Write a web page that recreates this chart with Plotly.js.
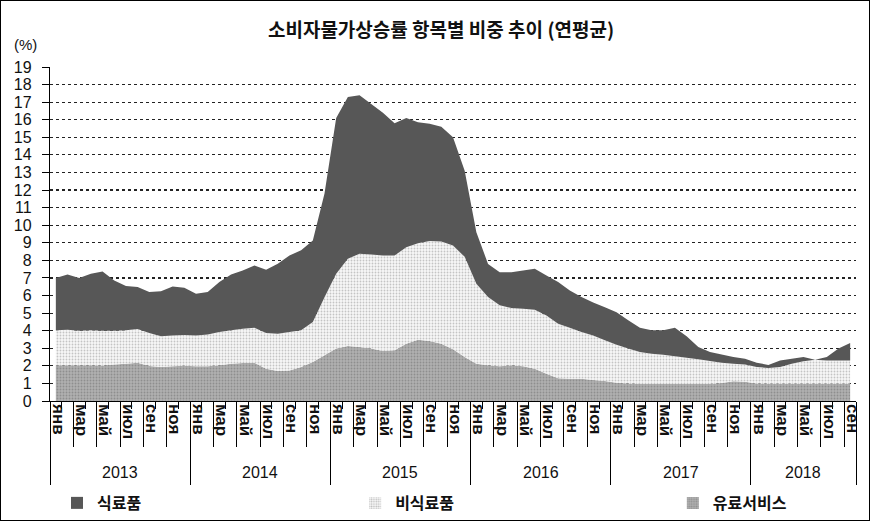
<!DOCTYPE html>
<html><head><meta charset="utf-8">
<script src="https://cdn.plot.ly/plotly-3.0.1.min.js"></script>
<style>html,body{margin:0;padding:0;background:#fff}#chart{width:868px;height:519px;border:1px solid #000}</style>
</head><body><div id="chart"></div><script>
const periods = ['2013-01','2013-02','2013-03','2013-04','2013-05','2013-06','2013-07','2013-08','2013-09','2013-10','2013-11','2013-12',
'2014-01','2014-02','2014-03','2014-04','2014-05','2014-06','2014-07','2014-08','2014-09','2014-10','2014-11','2014-12',
'2015-01','2015-02','2015-03','2015-04','2015-05','2015-06','2015-07','2015-08','2015-09','2015-10','2015-11','2015-12',
'2016-01','2016-02','2016-03','2016-04','2016-05','2016-06','2016-07','2016-08','2016-09','2016-10','2016-11','2016-12',
'2017-01','2017-02','2017-03','2017-04','2017-05','2017-06','2017-07','2017-08','2017-09','2017-10','2017-11','2017-12',
'2018-01','2018-02','2018-03','2018-04','2018-05','2018-06','2018-07','2018-08','2018-09'];
const labeledMonths = ['01','03','05','07','09','11'];
const monthTickText = ['янв','мар','май','июл','сен','ноя'];
const yearLabels = ['2013','2014','2015','2016','2017','2018'];
const seriesNames = ['식료품','비식료품','유료서비스'];

// 식료품 (food)
const food = [2.98,3.15,3.00,3.22,3.37,2.86,2.52,2.39,2.33,2.57,2.79,2.69,
2.37,2.41,2.85,3.18,3.32,3.54,3.60,3.98,4.36,4.55,4.63,5.90,
8.86,9.21,9.02,8.56,8.12,7.52,7.35,6.88,6.67,6.52,6.15,4.90,
2.93,1.89,1.89,2.04,2.18,2.33,2.27,2.37,2.12,1.99,1.88,1.89,
1.85,1.61,1.38,1.33,1.39,1.63,1.22,0.70,0.52,0.48,0.38,0.34,
0.25,0.17,0.38,0.29,0.24,0.00,0.19,0.67,0.99];
// 비식료품 (non-food goods)
const nonFood = [1.99,2.02,1.97,1.99,1.98,1.93,1.90,1.91,1.88,1.75,1.76,1.75,
1.76,1.82,1.89,1.90,1.95,1.99,2.03,2.13,2.18,2.09,2.28,3.30,
4.26,4.96,5.31,5.36,5.44,5.40,5.49,5.49,5.69,5.82,5.90,5.70,
4.55,3.88,3.47,3.26,3.28,3.35,3.32,3.10,2.90,2.65,2.52,2.31,
2.16,1.99,1.83,1.73,1.67,1.58,1.50,1.41,1.31,1.15,1.00,0.97,
0.93,0.90,0.95,1.14,1.28,1.37,1.33,1.33,1.33];
// 유료서비스 (paid services)
const services = [2.03,2.03,2.03,2.03,2.02,2.07,2.12,2.18,1.99,1.93,1.97,2.00,
1.97,1.97,2.03,2.12,2.16,2.18,1.84,1.70,1.74,1.93,2.22,2.60,
2.98,3.13,3.07,2.98,2.84,2.88,3.26,3.49,3.41,3.26,2.95,2.50,
2.12,2.03,1.97,2.03,1.97,1.84,1.55,1.30,1.27,1.27,1.20,1.14,
1.04,0.99,0.96,0.96,0.96,0.96,0.96,0.96,0.96,1.02,1.12,1.10,
1.00,0.98,0.98,0.98,0.98,0.98,0.98,0.98,0.98];

const idx = periods.map((p, i) => i);
const mm = periods.map(p => p.slice(5));
const last = periods.length - 0.5;
const allBounds = idx.map(i => i - 0.5).concat([last]);
const majorBounds = idx.filter(i => labeledMonths.includes(mm[i])).map(i => i - 0.5).concat([last]);
const yearBounds = idx.filter(i => mm[i] === '01').map(i => i - 0.5).concat([last]);
const labelIdx = idx.filter(i => labeledMonths.includes(mm[i]));
const labelPos = labelIdx.map(i => i + 0.2);
const labelText = labelIdx.map(i => monthTickText[labeledMonths.indexOf(mm[i])]);
const yearCenters = yearLabels.map(y => {
  const ii = idx.filter(i => periods[i].slice(0,4) === y);
  return ii.reduce((a,b)=>a+b,0)/ii.length;
});

const colFood = '#575757';
const servicesPattern = {shape:'.', bgcolor:'#b0b0b0', fgcolor:'#8e8e8e', size:3, solidity:0.3};
const nonFoodPattern = {shape:'.', bgcolor:'#f8f8f8', fgcolor:'#c4c4c4', size:3, solidity:0.3};

const traces = [
  {x: idx, y: services, stackgroup:'one', mode:'none', fillcolor:'#aaaaaa', fillpattern: servicesPattern, showlegend:false, hoverinfo:'skip'},
  {x: idx, y: nonFood, stackgroup:'one', mode:'none', fillcolor:'#eeeeee', fillpattern: nonFoodPattern, showlegend:false, hoverinfo:'skip'},
  {x: idx, y: food, stackgroup:'one', mode:'none', fillcolor: colFood, showlegend:false, hoverinfo:'skip'},
  {x:[null], y:[null], type:'bar', name: seriesNames[0], marker:{color: colFood}, legend:'legend'},
  {x:[null], y:[null], type:'bar', name: seriesNames[1], marker:{color:'#f4f4f4', pattern:{shape:'.', bgcolor:'#f8f8f8', fgcolor:'#bdbdbd', size:3, solidity:0.4}}, legend:'legend2'},
  {x:[null], y:[null], type:'bar', name: seriesNames[2], marker:{color:'#aaaaaa', pattern:{shape:'.', bgcolor:'#b0b0b0', fgcolor:'#909090', size:3, solidity:0.4}}, legend:'legend3'},
  {x:[0], y:[null], xaxis:'x2', mode:'lines', showlegend:false, hoverinfo:'skip'},
  {x:[0], y:[null], xaxis:'x3', mode:'lines', showlegend:false, hoverinfo:'skip'}
];

const legFont = {family:'Noto Sans CJK KR', size:16, color:'#111', weight:'bold'};
const legBase = {orientation:'h', xref:'container', yref:'container', yanchor:'middle', xanchor:'left', y:0.0328, font: legFont, bgcolor:'rgba(0,0,0,0)', borderwidth:0};

const layout = {
  width: 868, height: 519,
  margin: {l:49, r:13, t:66, b:119, autoexpand:false},
  paper_bgcolor:'#fff', plot_bgcolor:'#fff',
  title: {text:'소비자물가상승률 항목별 비중 추이 (연평균)', font:{family:'Noto Sans CJK KR', size:19, color:'#111', weight:'bold'}, x:0.507, xref:'container', xanchor:'center', y:0.944, yref:'container', yanchor:'middle'},
  showlegend: true,
  legend: Object.assign({}, legBase, {x:0.0645}),
  legend2: Object.assign({}, legBase, {x:0.408}),
  legend3: Object.assign({}, legBase, {x:0.774}),
  xaxis: {range:[-0.5, last], showgrid:false, zeroline:false, showline:true, linecolor:'#000', linewidth:1.2,
    tickmode:'array', tickvals: majorBounds, ticks:'outside', ticklen:45, tickwidth:1, tickcolor:'#000', showticklabels:false,
    minor:{tickmode:'array', tickvals: allBounds, ticks:'outside', ticklen:7, tickwidth:1, tickcolor:'#000', showgrid:false}},
  xaxis2: {overlaying:'x', anchor:'y', side:'bottom', range:[-0.5, last], showgrid:false, zeroline:false, showline:false,
    tickmode:'array', tickvals: labelPos, ticktext: labelText, ticks:'', tickangle:90, ticklabelstandoff:2,
    tickfont:{family:'Liberation Sans, Arial, sans-serif', size:17, color:'#111', weight:'bold'}},
  xaxis3: {overlaying:'x', anchor:'y', side:'bottom', range:[-0.5, last], showgrid:false, zeroline:false, showline:false,
    tickmode:'array', tickvals: yearBounds, ticks:'outside', ticklen:83, tickwidth:1, tickcolor:'#000', showticklabels:false},
  yaxis: {range:[0,19], dtick:1, tick0:0, showgrid:true, gridcolor:'#222', gridwidth:1.2, griddash:'dot', zeroline:false,
    showline:true, linecolor:'#000', linewidth:1.2, ticks:'outside', ticklen:7, tickcolor:'#000', ticklabelstandoff:7,
    tickfont:{family:'Liberation Sans Narrow, Liberation Sans, Arial, sans-serif', size:16, color:'#111'}},
  annotations: yearLabels.map((y, k) => ({text: y, x: yearCenters[k], xref:'x', y:-0.213, yref:'paper', xanchor:'center', yanchor:'middle', showarrow:false,
      font:{family:'Liberation Sans, Arial, sans-serif', size:16, color:'#111'}}))
    .concat([{text:'(%)', x:-0.047, xref:'paper', y:1.067, yref:'paper', xanchor:'left', yanchor:'middle', showarrow:false,
      font:{family:'Liberation Sans Narrow, Liberation Sans, Arial, sans-serif', size:15, color:'#111'}}])
};

Plotly.newPlot('chart', traces, layout, {staticPlot:true, displayModeBar:false});
</script></body></html>
